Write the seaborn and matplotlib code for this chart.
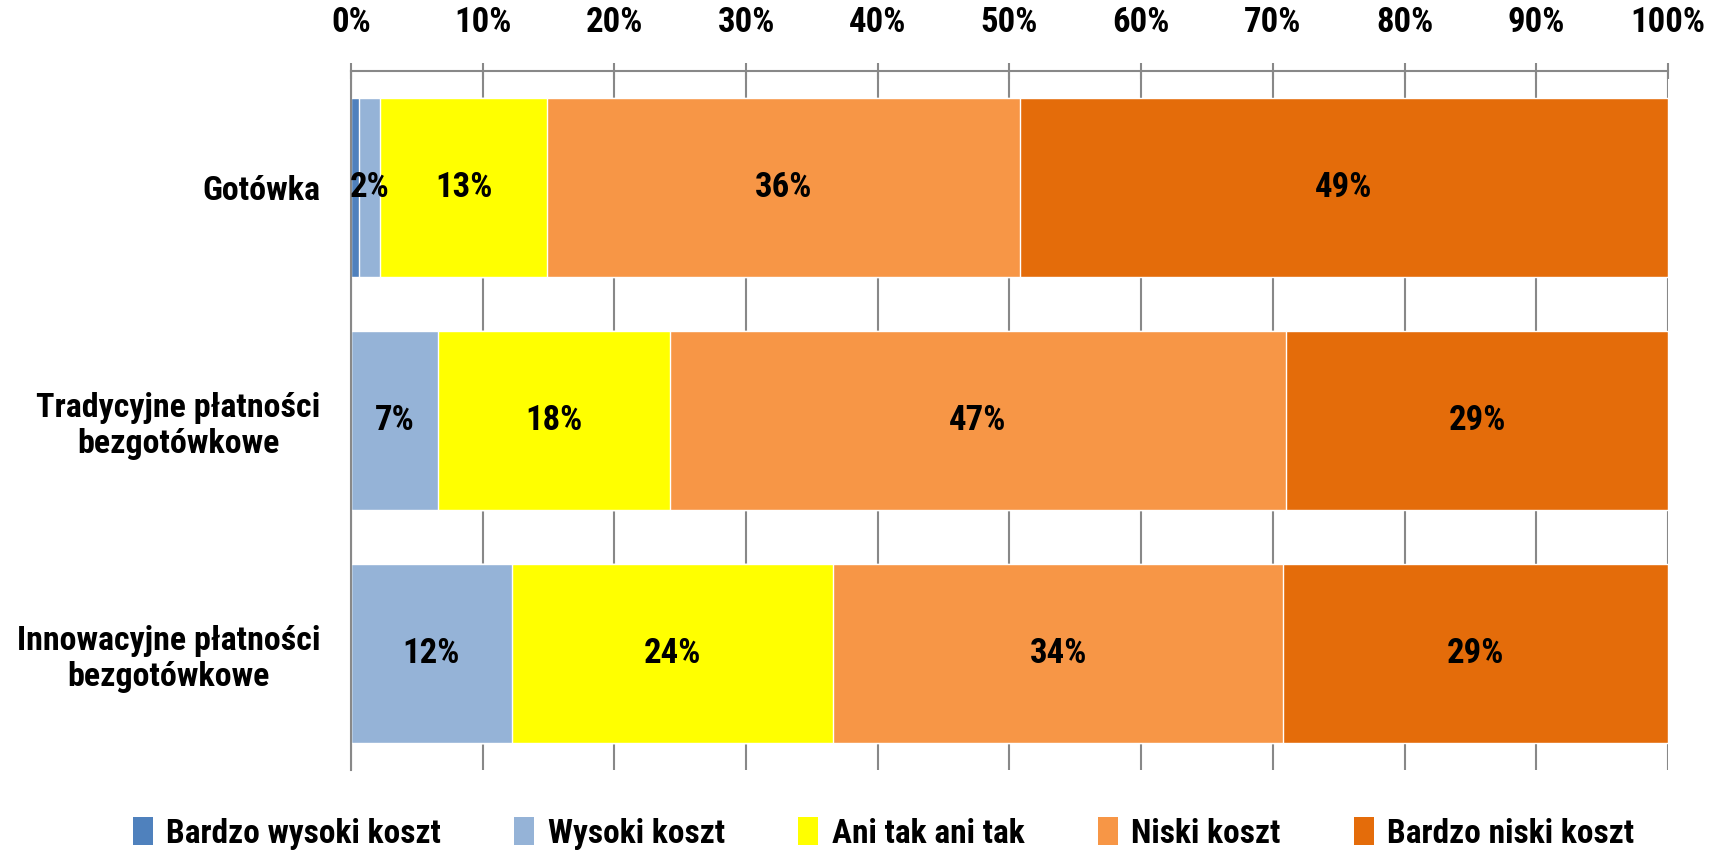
import numpy as np
import pandas as pd
import matplotlib
matplotlib.use('Agg')
import matplotlib.pyplot as plt
import seaborn as sns
from matplotlib.patches import Patch

# Data
categories = ['Gotówka', 'Tradycyjne płatności\nbezgotówkowe', 'Innowacyjne płatności\nbezgotówkowe']
series = ['Bardzo wysoki koszt', 'Wysoki koszt', 'Ani tak ani tak', 'Niski koszt', 'Bardzo niski koszt']
bardzo_wysoki = [0.6, 0.0, 0.0]
wysoki = [1.6, 6.6, 12.2]
ani_tak = [12.7, 17.6, 24.4]
niski = [35.9, 46.8, 34.2]
bardzo_niski = [49.2, 29.0, 29.2]
labels_shown = [
    ['', '2%', '13%', '36%', '49%'],
    ['', '7%', '18%', '47%', '29%'],
    ['', '12%', '24%', '34%', '29%'],
]
colors = ['#4F81BD', '#95B3D7', '#FFFF00', '#F79646', '#E46C0A']

sns.set_theme(style='white')
plt.rcParams['font.family'] = ['Roboto Condensed', 'DejaVu Sans']
plt.rcParams['font.weight'] = 'bold'
plt.rcParams['text.color'] = 'black'
plt.rcParams['xtick.labelcolor'] = 'black'
plt.rcParams['ytick.labelcolor'] = 'black'

values = np.array([bardzo_wysoki, wysoki, ani_tak, niski, bardzo_niski])
cum = values.cumsum(axis=0)

df = pd.DataFrame(cum.T, columns=series)
df['Kategoria'] = categories

fig = plt.figure(figsize=(17.29, 8.5), dpi=100)
ax = fig.add_axes([0.203, 0.094, 0.7617, 0.8225])

# stacked bars: draw cumulative totals from the last series backwards
for i in range(len(series) - 1, -1, -1):
    sns.barplot(data=df, x=series[i], y='Kategoria', orient='h', color=colors[i],
                width=0.77, saturation=1, ax=ax, zorder=2)

# data labels in the centre of each segment
for r in range(len(categories)):
    for i in range(len(series)):
        txt = labels_shown[r][i]
        if txt:
            centre = cum[i, r] - values[i, r] / 2
            ax.text(centre, r, txt, ha='center', va='center', fontsize=25,
                    fontweight='bold', color='black', zorder=3)

ax.set_xlim(0, 100)
ax.set_ylim(2.5, -0.5)
ax.set_xticks(np.arange(0, 101, 10))
ax.set_xticklabels([f'{v}%' for v in range(0, 101, 10)], fontsize=25, fontweight='bold')
ax.xaxis.tick_top()
ax.tick_params(axis='x', direction='inout', length=12, width=1.5, color='#888888', pad=17)
ax.grid(axis='x', color='#888888', linewidth=1.5, zorder=0)
ax.set_axisbelow(True)

ax.set_yticks(range(len(categories)))
ax.set_yticklabels(categories, fontsize=24.5, fontweight='bold', multialignment='center',
                   linespacing=1.15)
ax.set_yticks([-0.5, 0.5, 1.5, 2.5], minor=True)
ax.tick_params(axis='y', which='major', length=0, pad=22)
ax.tick_params(axis='y', which='minor', direction='out', length=7, width=1.5, color='#888888')

ax.set_xlabel('')
ax.set_ylabel('')
for side in ['right', 'bottom']:
    ax.spines[side].set_visible(False)
for side in ['left', 'top']:
    ax.spines[side].set_color('#888888')
    ax.spines[side].set_linewidth(1.5)

handles = [Patch(facecolor=c, edgecolor='none') for c in colors]
fig.legend(handles, series, loc='lower center', bbox_to_anchor=(0.511, -0.035), ncol=5,
           frameon=False, fontsize=24, handlelength=0.6, handleheight=0.9,
           handletextpad=0.4, columnspacing=2.2)

plt.savefig('out.png', dpi=100)
